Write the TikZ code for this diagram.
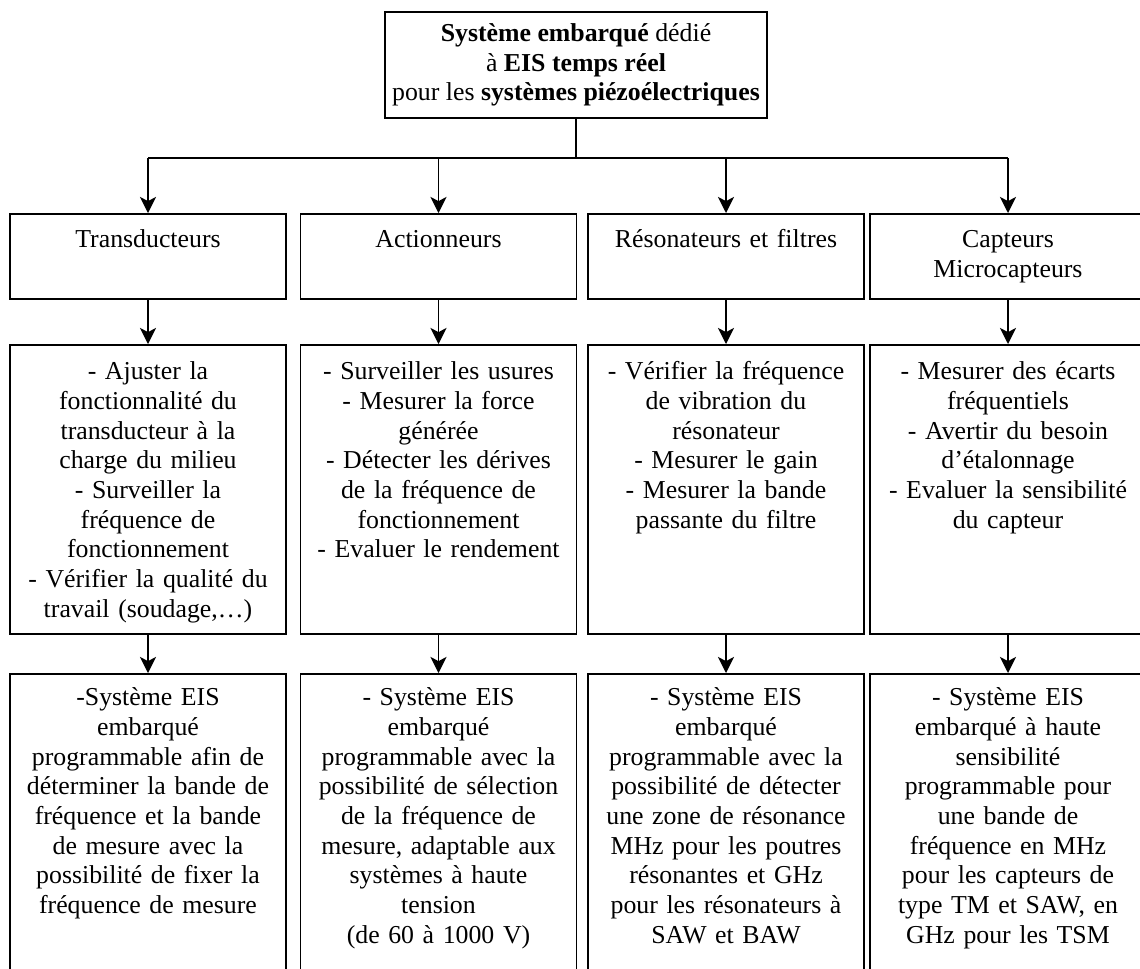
\documentclass[tikz,border=0pt]{standalone}
\usepackage{fontspec}
\setmainfont{Liberation Serif}
\usepackage{tikz}
\usetikzlibrary{positioning, arrows.meta}

\begin{document}
\begin{tikzpicture}[
    x=0.465pt, y=-0.465pt,
    cell/.style={rectangle, draw, line width=0.75pt, anchor=north, align=center, text width=124pt, inner xsep=2.15pt, inner ysep=0pt, font=\fontsize{12pt}{13.8pt}\selectfont},
    main/.style={rectangle, draw, line width=0.75pt, align=center, minimum width=177.6pt, minimum height=49.3pt, font=\fontsize{12pt}{13.8pt}\selectfont},
    head/.style={cell, text height=15.8pt, text depth=23.7pt},
    task/.style={cell, text height=16.3pt, text depth=118.1pt},
    sol/.style={cell, text height=14.9pt, text depth=125pt},
    arrow/.style={-{Stealth[length=7.5pt, width=7.5pt, inset=2pt]}, line width=0.75pt}
]
\useasboundingbox (0,0) rectangle (1140,969);
\clip (0,0) rectangle (1140,969);

\node[main] (sys) at (576,65) {\textbf{Système embarqué} dédié\\à \textbf{EIS temps réel}\\pour les \textbf{systèmes piézoélectriques}};
\coordinate (bus) at (576,158);

\node[head] (tr1) at (148,213) {Transducteurs};
\node[head] (ac1) at (438.5,213) {Actionneurs};
\node[head] (re1) at (726,213) {Résonateurs et filtres};
\node[head] (ca1) at (1008,213) {Capteurs\\Microcapteurs};

\node[task] (tr2) at (148,344) {- Ajuster la\\fonctionnalité du\\transducteur à la\\charge du milieu\\- Surveiller la\\fréquence de\\fonctionnement\\- Vérifier la qualité du\\travail (soudage,…)};
\node[task] (ac2) at (438.5,344) {- Surveiller les usures\\- Mesurer la force\\générée\\- Détecter les dérives\\de la fréquence de\\fonctionnement\\- Evaluer le rendement};
\node[task] (re2) at (726,344) {- Vérifier la fréquence\\de vibration du\\résonateur\\- Mesurer le gain\\- Mesurer la bande\\passante du filtre};
\node[task] (ca2) at (1008,344) {- Mesurer des écarts\\fréquentiels\\- Avertir du besoin\\d’étalonnage\\- Evaluer la sensibilité\\du capteur};

\node[sol] (tr3) at (148,673) {-Système EIS\\embarqué\\programmable afin de\\déterminer la bande de\\fréquence et la bande\\de mesure avec la\\possibilité de fixer la\\fréquence de mesure};
\node[sol] (ac3) at (438.5,673) {- Système EIS\\embarqué\\programmable avec la\\possibilité de sélection\\de la fréquence de\\mesure, adaptable aux\\systèmes à haute\\tension\\(de 60 à 1000 V)};
\node[sol] (re3) at (726,673) {- Système EIS\\embarqué\\programmable avec la\\possibilité de détecter\\une zone de résonance\\MHz pour les poutres\\résonantes et GHz\\pour les résonateurs à\\SAW et BAW};
\node[sol] (ca3) at (1008,673) {- Système EIS\\embarqué à haute\\sensibilité\\programmable pour\\une bande de\\fréquence en MHz\\pour les capteurs de\\type TM et SAW, en\\GHz pour les TSM};

\draw[line width=0.75pt] (sys) -- (bus);
\draw[line width=0.75pt] (tr1.north |- bus) -- (ca1.north |- bus);
\foreach \c in {tr, ac, re, ca} {
    \draw[arrow] (\c1.north |- bus) -- (\c1.north);
    \draw[arrow] (\c1) -- (\c2);
    \draw[arrow] (\c2) -- (\c3);
}

\end{tikzpicture}
\end{document}
